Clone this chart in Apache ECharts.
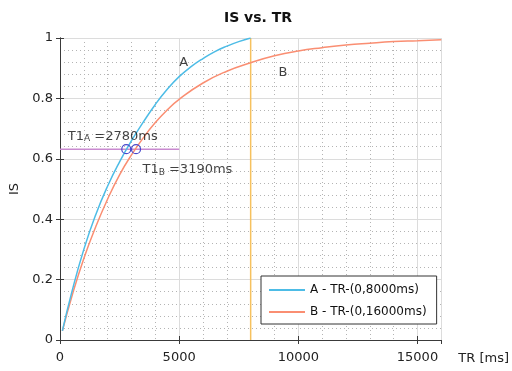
<!DOCTYPE html>
<html>
<head>
<meta charset="utf-8">
<script src="https://cdn.jsdelivr.net/npm/echarts@6/dist/echarts.min.js"></script>
<style>html,body{margin:0;padding:0;background:#fff}#c{width:512px;height:371px}</style>
</head>
<body>
<div id="c"></div>
<script>
// ---- data ----
const trA = [100, 500, 1000, 1500, 2000, 2500, 3000, 3500, 4000, 4500, 5000, 5500, 6000, 6500, 7000, 7500, 8000];
const isA = [0.03, 0.16, 0.30, 0.415, 0.51, 0.59, 0.66, 0.722, 0.78, 0.83, 0.872, 0.905, 0.932, 0.955, 0.973, 0.988, 1.0];
const trB = [100, 500, 1000, 1500, 2000, 2500, 3000, 3500, 4000, 4500, 5000, 6000, 7000, 8000, 9000, 10000, 11000, 12000, 13000, 14000, 15000, 16000];
const isB = [0.03, 0.145, 0.27, 0.375, 0.467, 0.547, 0.613, 0.67, 0.72, 0.762, 0.797, 0.851, 0.89, 0.918, 0.941, 0.957, 0.968, 0.977, 0.983, 0.988, 0.991, 0.994];
const t1Level = 0.632;
const t1Values = [2780, 3190];
const t1LineSpan = [0, 5000];
const trMarker = 8000;
const legendNames = ['A - TR-(0,8000ms)', 'B - TR-(0,16000ms)'];
const xTicks = [0, 5000, 10000, 15000];
const yTicks = [0, 0.2, 0.4, 0.6, 0.8, 1];
// annotation anchors in data units
const notes = [
  {pos: [5000, 0.92], text: 'A'},
  {pos: [9170, 0.884], text: 'B'},
  {pos: [330, 0.675], text: '{n|T1}{s|A}{n| =2780ms}'},
  {pos: [3460, 0.563], text: '{n|T1}{s|B}{n| =3190ms}'}
];

const FONT = 'DejaVu Sans';
const chart = echarts.init(document.getElementById('c'));
const zip = (a, b) => a.map((v, i) => [v, b[i]]);

const gridGrey = '#dcdcdc';
const minorGrey = '#b4b4b4';
const axisC = '#3a3a3a';

const hiddenAxisBits = {
  axisLine: {show: false}, axisTick: {show: false}, axisLabel: {show: false}
};

chart.setOption({
  animation: false,
  backgroundColor: '#fff',
  textStyle: {fontFamily: FONT},
  title: {
    text: 'IS vs. TR', left: 253, top: 6, textAlign: 'center',
    textStyle: {fontFamily: FONT, fontSize: 14, fontWeight: 'bold', color: '#111'}
  },
  grid: {left: 60, right: 67, top: 38, bottom: 31, show: false},
  legend: {
    data: legendNames, orient: 'vertical', left: 261, top: 276,
    itemWidth: 36, itemHeight: 2, itemGap: 10, padding: [8, 10, 6, 8],
    borderColor: '#333', borderWidth: 1, backgroundColor: '#fff',
    icon: 'rect',
    textStyle: {fontFamily: FONT, fontSize: 12, color: '#111'}
  },
  xAxis: [{
    type: 'value', min: 0, max: 16000, interval: 5000, z: 2,
    name: 'TR [ms]', nameLocation: 'end', nameGap: 17,
    nameTextStyle: {fontFamily: FONT, fontSize: 13, color: '#222', verticalAlign: 'top', padding: [12, 0, 0, 0]},
    axisLine: {show: true, lineStyle: {color: axisC, width: 1}},
    axisTick: {show: true, inside: true, length: 4, lineStyle: {color: axisC}},
    axisLabel: {fontFamily: FONT, fontSize: 13, color: '#222', margin: 11, showMaxLabel: false,
      formatter: v => xTicks.includes(v) ? String(v) : ''},
    splitLine: {show: true, lineStyle: {color: gridGrey, width: 1}}
  }, {
    type: 'value', min: 0, max: 16000, interval: 5000, position: 'top', z: 2,
    axisLine: {show: true, lineStyle: {color: axisC, width: 1}},
    axisTick: {show: true, inside: true, length: 4, lineStyle: {color: axisC}},
    axisLabel: {show: false}, splitLine: {show: false}
  }, Object.assign({
    type: 'value', min: 0, max: 16000, interval: 1000, position: 'bottom', z: 1,
    splitLine: {show: true, lineStyle: {color: minorGrey, type: [1, 3], width: 1}}
  }, hiddenAxisBits)],
  yAxis: [{
    type: 'value', min: 0, max: 1, interval: 0.2, z: 2,
    name: 'IS', nameLocation: 'middle', nameGap: 31, nameRotate: 90,
    nameTextStyle: {fontFamily: FONT, fontSize: 13, color: '#222'},
    axisLine: {show: true, lineStyle: {color: axisC, width: 1}},
    axisTick: {show: true, inside: true, length: 4, lineStyle: {color: axisC}},
    axisLabel: {fontFamily: FONT, fontSize: 13, color: '#222', margin: 7,
      formatter: v => {const t = yTicks.find(k => Math.abs(k - v) < 1e-9); return t === undefined ? '' : String(+t.toFixed(1));}},
    splitLine: {show: true, lineStyle: {color: gridGrey, width: 1}}
  }, {
    type: 'value', min: 0, max: 1, interval: 0.2, position: 'right', z: 2,
    axisLine: {show: true, lineStyle: {color: axisC, width: 1}},
    axisTick: {show: true, inside: true, length: 4, lineStyle: {color: axisC}},
    axisLabel: {show: false}, splitLine: {show: false}
  }, Object.assign({
    type: 'value', min: 0, max: 1, interval: 0.04, position: 'left', z: 1,
    splitLine: {show: true, lineStyle: {color: minorGrey, type: [1, 3], width: 1}}
  }, hiddenAxisBits)],
  series: [
    {
      name: legendNames[0], type: 'line', data: zip(trA, isA), smooth: 0.5,
      showSymbol: false, symbol: 'none', lineStyle: {color: '#4DBCE6', width: 1.5}, itemStyle: {color: '#4DBCE6'}, z: 4
    },
    {
      name: legendNames[1], type: 'line', data: zip(trB, isB), smooth: 0.5,
      showSymbol: false, symbol: 'none', lineStyle: {color: '#FA8E72', width: 1.5}, itemStyle: {color: '#FA8E72'}, z: 3
    },
    {
      name: 'T1 level', type: 'line', data: t1LineSpan.map(x => [x, t1Level]),
      symbol: 'none', lineStyle: {color: '#C98AD0', width: 1.5}, z: 2
    },
    {
      name: 'TR marker', type: 'line', data: [[trMarker, 0], [trMarker, 1]],
      symbol: 'none', lineStyle: {color: '#F6C15E', width: 1.5}, z: 2
    },
    {
      name: 'T1 points', type: 'scatter', data: t1Values.map(x => [x, t1Level]),
      symbol: 'circle', symbolSize: 9,
      itemStyle: {color: 'rgba(0,0,0,0)', borderColor: '#4747CC', borderWidth: 1.2, opacity: 1}, z: 6
    },
    {
      name: 'notes', type: 'scatter', symbolSize: 0, z: 7, silent: true,
      data: notes.map(n => ({value: n.pos, label: {formatter: n.text}})),
      label: {
        show: true, position: 'right', distance: 0, color: '#111',
        fontFamily: FONT, fontSize: 13,
        rich: {
          n: {fontFamily: FONT, fontSize: 13, color: '#111'},
          s: {fontFamily: FONT, fontSize: 9, color: '#111', verticalAlign: 'bottom', padding: [6, 0, 0, 0]}
        }
      }
    }
  ]
});
</script>
</body>
</html>
